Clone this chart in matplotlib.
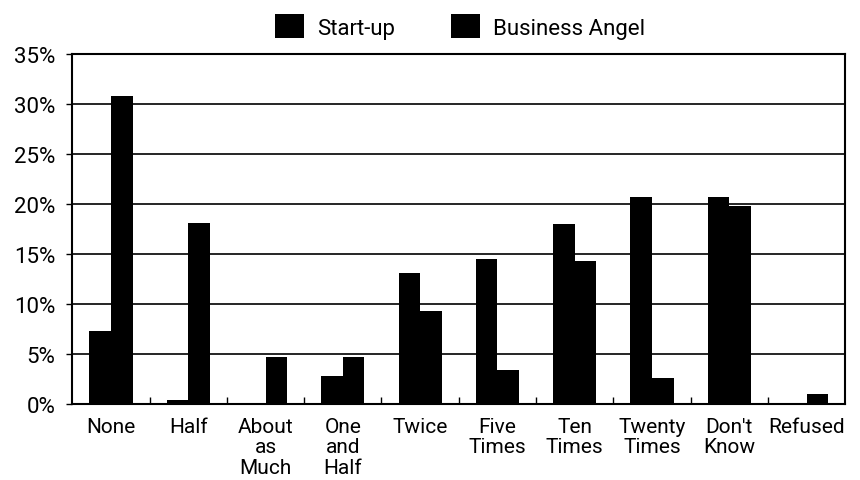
import numpy as np
import matplotlib
matplotlib.use("Agg")
import matplotlib.pyplot as plt
from matplotlib.patches import Patch
from matplotlib.ticker import FuncFormatter, FixedLocator

plt.rcParams['font.family'] = ['Roboto', 'DejaVu Sans']

categories = ["None", "Half", "About\nas\nMuch", "One\nand\nHalf", "Twice",
              "Five\nTimes", "Ten\nTimes", "Twenty\nTimes", "Don't\nKnow", "Refused"]
startup = [7.3, 0.4, 0.0, 2.8, 13.1, 14.5, 18.0, 20.7, 20.7, 0.0]
angel = [30.8, 18.1, 4.7, 4.7, 9.3, 3.4, 14.3, 2.6, 19.8, 1.0]
series_names = ["Start-up", "Business Angel"]

fig = plt.figure(figsize=(8.6, 4.81), dpi=100)
ax = fig.add_axes([0.084, 0.158, 0.899, 0.728])

x = np.arange(len(categories))
w = 0.28
ax.bar(x - w / 2, startup, w, color='black')
ax.bar(x + w / 2, angel, w, color='black')

ax.set_xlim(-0.5, len(categories) - 0.5)
ax.set_ylim(0, 35)
ax.set_yticks(np.arange(0, 36, 5))
ax.yaxis.set_major_formatter(FuncFormatter(lambda v, p: "%d%%" % v))
ax.yaxis.grid(True, color='black', linewidth=1.2)
ax.set_axisbelow(True)
ax.tick_params(axis='y', labelsize=16, length=4, width=1, pad=8)

ax.set_xticks(x)
ax.set_xticklabels(categories, fontsize=15, linespacing=1.1, va='top')
ax.tick_params(axis='x', length=0, pad=9)
ax.xaxis.set_minor_locator(FixedLocator(x[:-1] + 0.5))
ax.tick_params(axis='x', which='minor', direction='in', length=5, width=1)

for s in ax.spines.values():
    s.set_linewidth(1.5)
    s.set_color('black')

handles = [Patch(facecolor='black'), Patch(facecolor='black')]
fig.legend(handles, series_names, loc='upper center', bbox_to_anchor=(0.535, 1.01),
           ncol=2, frameon=False, fontsize=16, handlelength=1.3, handleheight=1.3,
           columnspacing=2.5, handletextpad=0.6)

fig.savefig("out.png", dpi=100)
